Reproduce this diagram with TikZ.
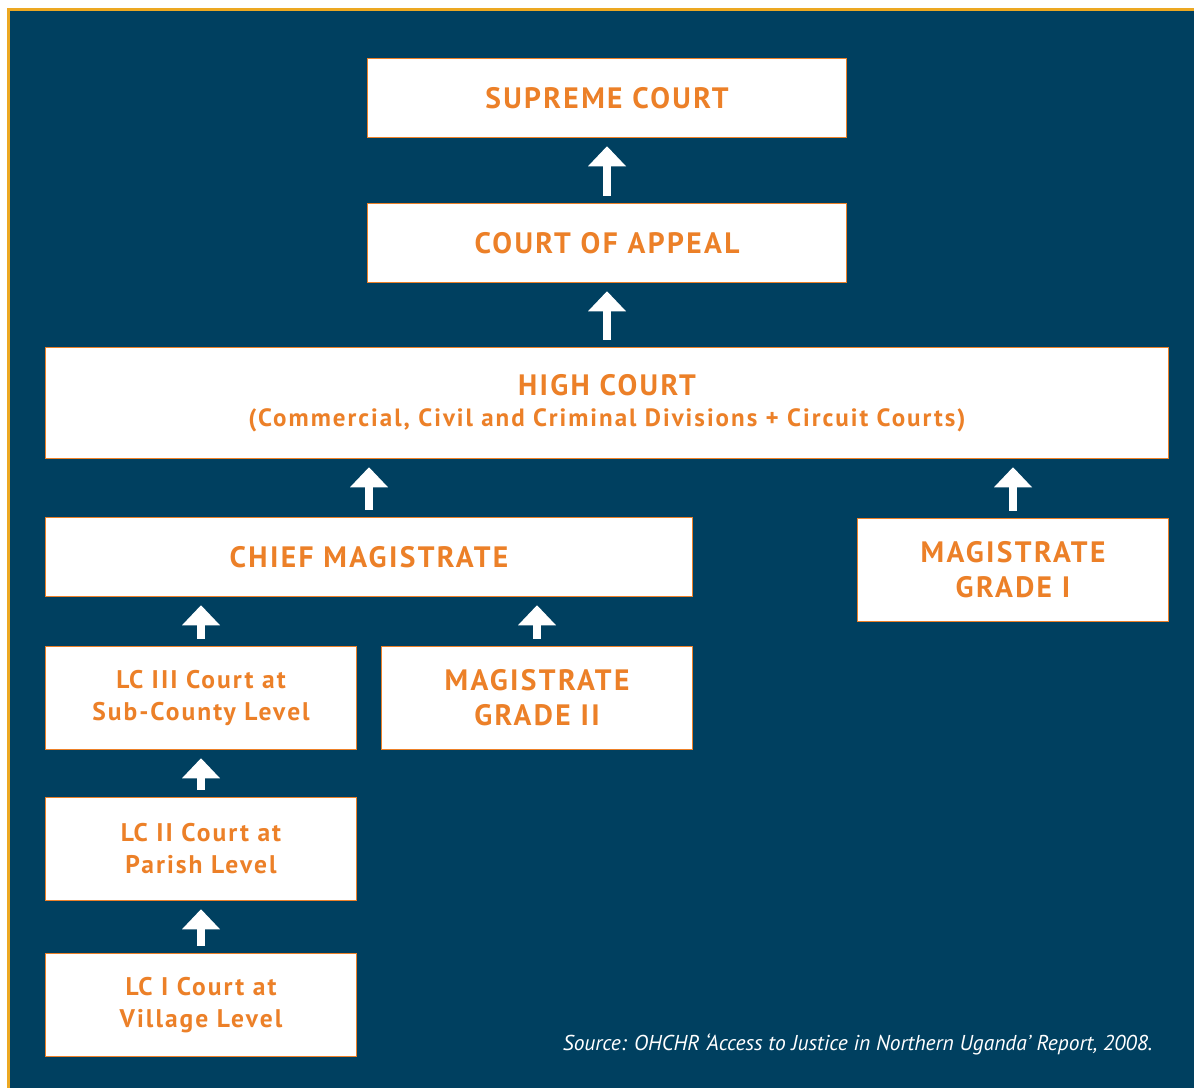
\documentclass[tikz,border=0pt]{standalone}
\usepackage{fontspec}
\setmainfont{PT Sans}
\newfontfamily\courtfont[LetterSpace=8]{PT Sans}
\usetikzlibrary{arrows.meta, positioning}
\definecolor{navy}{RGB}{0,64,96}
\definecolor{courtorange}{RGB}{236,128,40}
\definecolor{framegold}{RGB}{236,168,34}

\begin{document}
\begin{tikzpicture}[x=1pt, y=-1pt]
	\tikzstyle{court} = [rectangle, draw=courtorange, line width=1.5pt, fill=white, text=courtorange, align=center, inner sep=0pt, font=\courtfont\bfseries\fontsize{29.5}{35}\selectfont]
	\tikzstyle{lcourt} = [court, font=\courtfont\bfseries\fontsize{25.5}{32}\selectfont]
	\tikzstyle{arrow} = [white, line width=8pt, -{Triangle[width=38pt, length=20pt, line width=0pt]}, shorten >=8pt, shorten <=7pt]

	% frame and background
	\useasboundingbox (0,0) rectangle (1194,1088);
	\fill[framegold] (7,8) rectangle (1194,1088);
	\fill[navy] (10,11) rectangle (1194,1088);

	\node (supreme) [court, minimum width=479pt, minimum height=79pt] at (607,98) {SUPREME COURT};
	\node (appeal) [court, minimum width=479pt, minimum height=79pt] at (607,243) {COURT OF APPEAL};
	\node (high) [court, minimum width=1123pt, minimum height=111pt] at (607,403) {HIGH COURT\\[-4pt] \fontsize{25}{30}\selectfont (Commercial, Civil and Criminal Divisions + Circuit Courts)};
	\node (chief) [court, minimum width=647pt, minimum height=79pt] at (369,557) {CHIEF MAGISTRATE};
	\node (magone) [court, minimum width=311pt, minimum height=103pt] at (1013,570) {MAGISTRATE\\GRADE I};
	\node (lcthree) [lcourt, minimum width=311pt, minimum height=103pt] at (201,698) {LC III Court at\\Sub-County Level};
	\node (magtwo) [court, minimum width=311pt, minimum height=103pt] at (537,698) {MAGISTRATE\\GRADE II};
	\node (lctwo) [lcourt, minimum width=311pt, minimum height=103pt] at (201,849) {LC II Court at\\Parish Level};
	\node (lcone) [lcourt, minimum width=311pt, minimum height=103pt] at (201,1005) {LC I Court at\\Village Level};

	\node (source) [anchor=east, text=white, font=\itshape\fontsize{21.5}{24}\selectfont] at (1156,1044) {Source: OHCHR ‘Access to Justice in Northern Uganda’ Report, 2008.};

	\draw [arrow] (appeal.north) -- (supreme.south);
	\draw [arrow] (high.north) -- (appeal.south);
	\draw [arrow] (chief.north) -- (chief.north |- high.south);
	\draw [arrow] (magone.north) -- (magone.north |- high.south);
	\draw [arrow] (lcthree.north) -- (lcthree.north |- chief.south);
	\draw [arrow] (magtwo.north) -- (magtwo.north |- chief.south);
	\draw [arrow] (lctwo.north) -- (lcthree.south);
	\draw [arrow] (lcone.north) -- (lctwo.south);

\end{tikzpicture}
\end{document}
